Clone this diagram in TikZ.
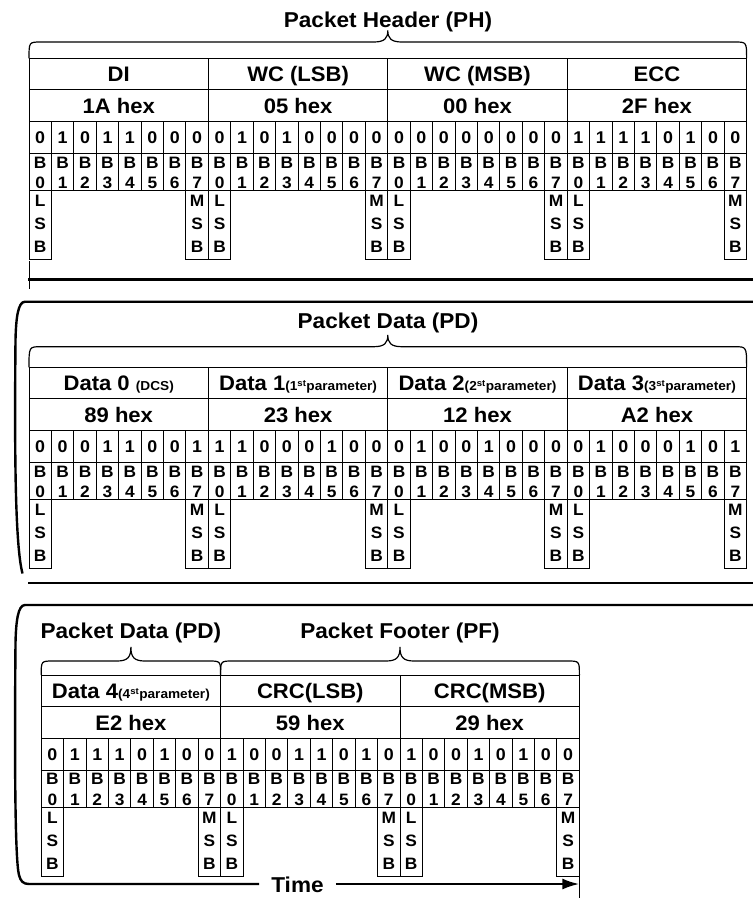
\documentclass[tikz,border=0pt]{standalone}
\usepackage{fontspec}
\setmainfont{Liberation Sans}[FakeStretch=1.05]
\usetikzlibrary{arrows.meta}

\begin{document}
\begin{tikzpicture}[x=1pt, y=-1pt,
    cell/.style={draw, line width=1pt},
    outline/.style={line width=2.4pt},
    brace/.style={line width=1.2pt},
    headtext/.style={font=\fontsize{21}{22}\selectfont\bfseries, inner sep=0pt},
    titletext/.style={font=\fontsize{21.5}{22}\selectfont\bfseries, inner sep=0pt},
    bittext/.style={font=\fontsize{17}{17}\selectfont\bfseries, inner sep=0pt},
    labtext/.style={font=\fontsize{16.5}{20.5}\selectfont\bfseries, align=center, inner sep=0pt},
    sidetext/.style={font=\fontsize{16.5}{23}\selectfont\bfseries, align=center, inner sep=0pt}]

    \useasboundingbox (0,0) rectangle (753,898);
    \def\bytew{179.4}
    \def\bitw{22.425}
    \def\paramtxt#1{{\fontsize{13}{13}\selectfont #1}}

    % Bytes: name, hex value, bits, bit positions, LSB and MSB
    \foreach \id/\bx/\ty/\name/\hexv/\bits in {%
        di/29/58.3/{DI}/{1A hex}/{0,1,0,1,1,0,0,0},%
        wcl/208.4/58.3/{WC (LSB)}/{05 hex}/{0,1,0,1,0,0,0,0},%
        wcm/387.8/58.3/{WC (MSB)}/{00 hex}/{0,0,0,0,0,0,0,0},%
        ecc/567.2/58.3/{ECC}/{2F hex}/{1,1,1,1,0,1,0,0},%
        dz/29/367.3/{Data 0 \paramtxt{(DCS)}}/{89 hex}/{0,0,0,1,1,0,0,1},%
        da/208.4/367.3/{Data 1\paramtxt{(1\textsuperscript{st}parameter)}}/{23 hex}/{1,1,0,0,0,1,0,0},%
        db/387.8/367.3/{Data 2\paramtxt{(2\textsuperscript{st}parameter)}}/{12 hex}/{0,1,0,0,1,0,0,0},%
        dc/567.2/367.3/{Data 3\paramtxt{(3\textsuperscript{st}parameter)}}/{A2 hex}/{0,1,0,0,0,1,0,1},%
        dd/41.2/675/{Data 4\paramtxt{(4\textsuperscript{st}parameter)}}/{E2 hex}/{0,1,1,1,0,1,0,0},%
        crcl/220.6/675/{CRC(LSB)}/{59 hex}/{1,0,0,1,1,0,1,0},%
        crcm/400/675/{CRC(MSB)}/{29 hex}/{1,0,0,1,0,1,0,0}%
    }{
        \draw[cell] (\bx,\ty) rectangle ++(\bytew,31.5);
        \draw[cell] (\bx,\ty+31.5) rectangle ++(\bytew,31.5);
        \node[headtext, anchor=base] (name-\id) at (\bx+\bytew/2,\ty+23.6) {\name};
        \node[headtext, anchor=base] (hex-\id) at (\bx+\bytew/2,\ty+55.2) {\hexv};
        \foreach \b [count=\i from 0] in \bits {
            \draw[cell] (\bx+\i*\bitw,\ty+63) rectangle ++(\bitw,32.5);
            \draw[cell] (\bx+\i*\bitw,\ty+95.5) rectangle ++(\bitw,37);
            \node[bittext] (bit-\id-\i) at (\bx+\i*\bitw+\bitw/2,\ty+79.2) {\b};
            \node[labtext] (pos-\id-\i) at (\bx+\i*\bitw+\bitw/2,\ty+114.5) {B\\\i};
        }
        \draw[cell] (\bx,\ty+132.5) rectangle ++(\bitw,69);
        \draw[cell] (\bx+7*\bitw,\ty+132.5) rectangle ++(\bitw,69);
        \node[sidetext] (lsb-\id) at (\bx+\bitw/2,\ty+166) {L\\S\\B};
        \node[sidetext] (msb-\id) at (\bx+7.5*\bitw,\ty+166) {M\\S\\B};
    }

    % Braces over the packet parts
    \foreach \xa/\xb/\yb/\yf/\yt in {29/746.6/58.3/42/30.5, 29/746.6/367.3/346.7/335,
        41.2/220.6/675/661/647, 220.6/579.4/675/661/647} {
        \pgfmathsetmacro\xm{(\xa+\xb)/2}
        \draw[brace] (\xa,\yb) .. controls (\xa,\yf) .. (\xa+12,\yf) -- (\xm-14,\yf)
            .. controls (\xm-3,\yf) and (\xm,\yf-4) .. (\xm,\yt)
            .. controls (\xm,\yf-4) and (\xm+3,\yf) .. (\xm+14,\yf) -- (\xb-12,\yf)
            .. controls (\xb,\yf) .. (\xb,\yb);
    }

    % Titles
    \node[titletext, anchor=base] (ph) at (388,27.3) {Packet Header (PH)};
    \node[titletext, anchor=base] (pd) at (388,328.3) {Packet Data (PD)};
    \node[titletext, anchor=base] (pdb) at (130.9,638.3) {Packet Data (PD)};
    \node[titletext, anchor=base] (pf) at (400,638.3) {Packet Footer (PF)};

    % Section borders
    \draw[outline] (28,279.3) -- (753,279.3);
    \draw[cell] (29,261) -- (29,289);
    \draw[outline] (753,301.7) -- (25,301.7) .. controls (18,301.7) and (16,318) .. (15.5,340)
        .. controls (14.5,450) and (15,545) .. (22.5,573.5);
    \draw[outline] (28,582.7) -- (753,582.7);

    % Time axis
    \node[titletext, inner xsep=12pt] (time) at (297.5,885) {Time};
    \coordinate (tip) at (579.4,884);
    \draw[outline] (753,605) -- (25,605) .. controls (18,605) and (16,621) .. (15.5,643)
        .. controls (14.5,760) and (15,860) .. (19,875)
        .. controls (20.5,881) and (23,884) .. (29,884) -- (time.west |- tip);
    \draw[outline, -{Latex[length=17pt,width=11pt]}] (time.east |- tip) -- (tip);
    \draw[cell] (579.4,876) -- (579.4,898);

\end{tikzpicture}
\end{document}
